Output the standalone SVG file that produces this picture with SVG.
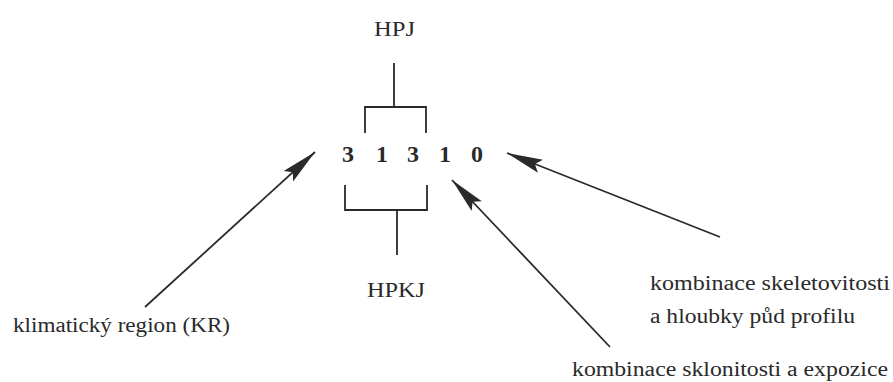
<svg xmlns="http://www.w3.org/2000/svg" width="893" height="382" viewBox="0 0 893 382">
<defs>
<style>
text{fill:#2a2a2a}
.t{font-size:20px}
.h{font-size:22px}
.d{font-size:24px;font-weight:bold;text-anchor:middle}
.ln{stroke:#2a2a2a;stroke-width:1.8;fill:none}
</style>
<marker id="ah" markerUnits="userSpaceOnUse" markerWidth="38" markerHeight="16" refX="36" refY="8" orient="auto" viewBox="0 0 38 16">
<path d="M0,1 L36,8 L0,15 L6,8 z" fill="#2a2a2a"/>
</marker>
</defs>
<rect width="893" height="382" fill="#fff"/>
<g font-family="Liberation Serif, Times New Roman, serif">
<g id="hpj">
<text class="h" x="374" y="36" textLength="41" lengthAdjust="spacingAndGlyphs">HPJ</text>
</g>
<g id="code">
<text class="d" x="348" y="162">3</text>
<text class="d" x="382" y="162">1</text>
<text class="d" x="413" y="162">3</text>
<text class="d" x="445" y="162">1</text>
<text class="d" x="477" y="162">0</text>
</g>
<g id="hpkj">
<text class="h" x="367" y="297" textLength="58" lengthAdjust="spacingAndGlyphs">HPKJ</text>
</g>
<g id="kr">
<text class="t" x="13" y="332" textLength="217" lengthAdjust="spacingAndGlyphs">klimatický region (KR)</text>
</g>
<g id="skelet">
<text class="t" x="650" y="290" textLength="240" lengthAdjust="spacingAndGlyphs">kombinace skeletovitosti</text>
<text class="t" x="650" y="323" textLength="205" lengthAdjust="spacingAndGlyphs">a hloubky půd profilu</text>
</g>
<g id="sklon">
<text class="t" x="572" y="376" textLength="316" lengthAdjust="spacingAndGlyphs">kombinace sklonitosti a expozice</text>
</g>
</g>
<g id="connectors">
<path class="ln" d="M394,63 V107 M365,133 V107 H426 V133"/>
<path class="ln" d="M345,185 V210 H427 V185 M397,210 V255"/>
<line class="ln" x1="145" y1="307" x2="315" y2="152" marker-end="url(#ah)"/>
<line class="ln" x1="610" y1="347" x2="452" y2="180" marker-end="url(#ah)"/>
<line class="ln" x1="720" y1="237" x2="507" y2="153" marker-end="url(#ah)"/>
</g>
</svg>
